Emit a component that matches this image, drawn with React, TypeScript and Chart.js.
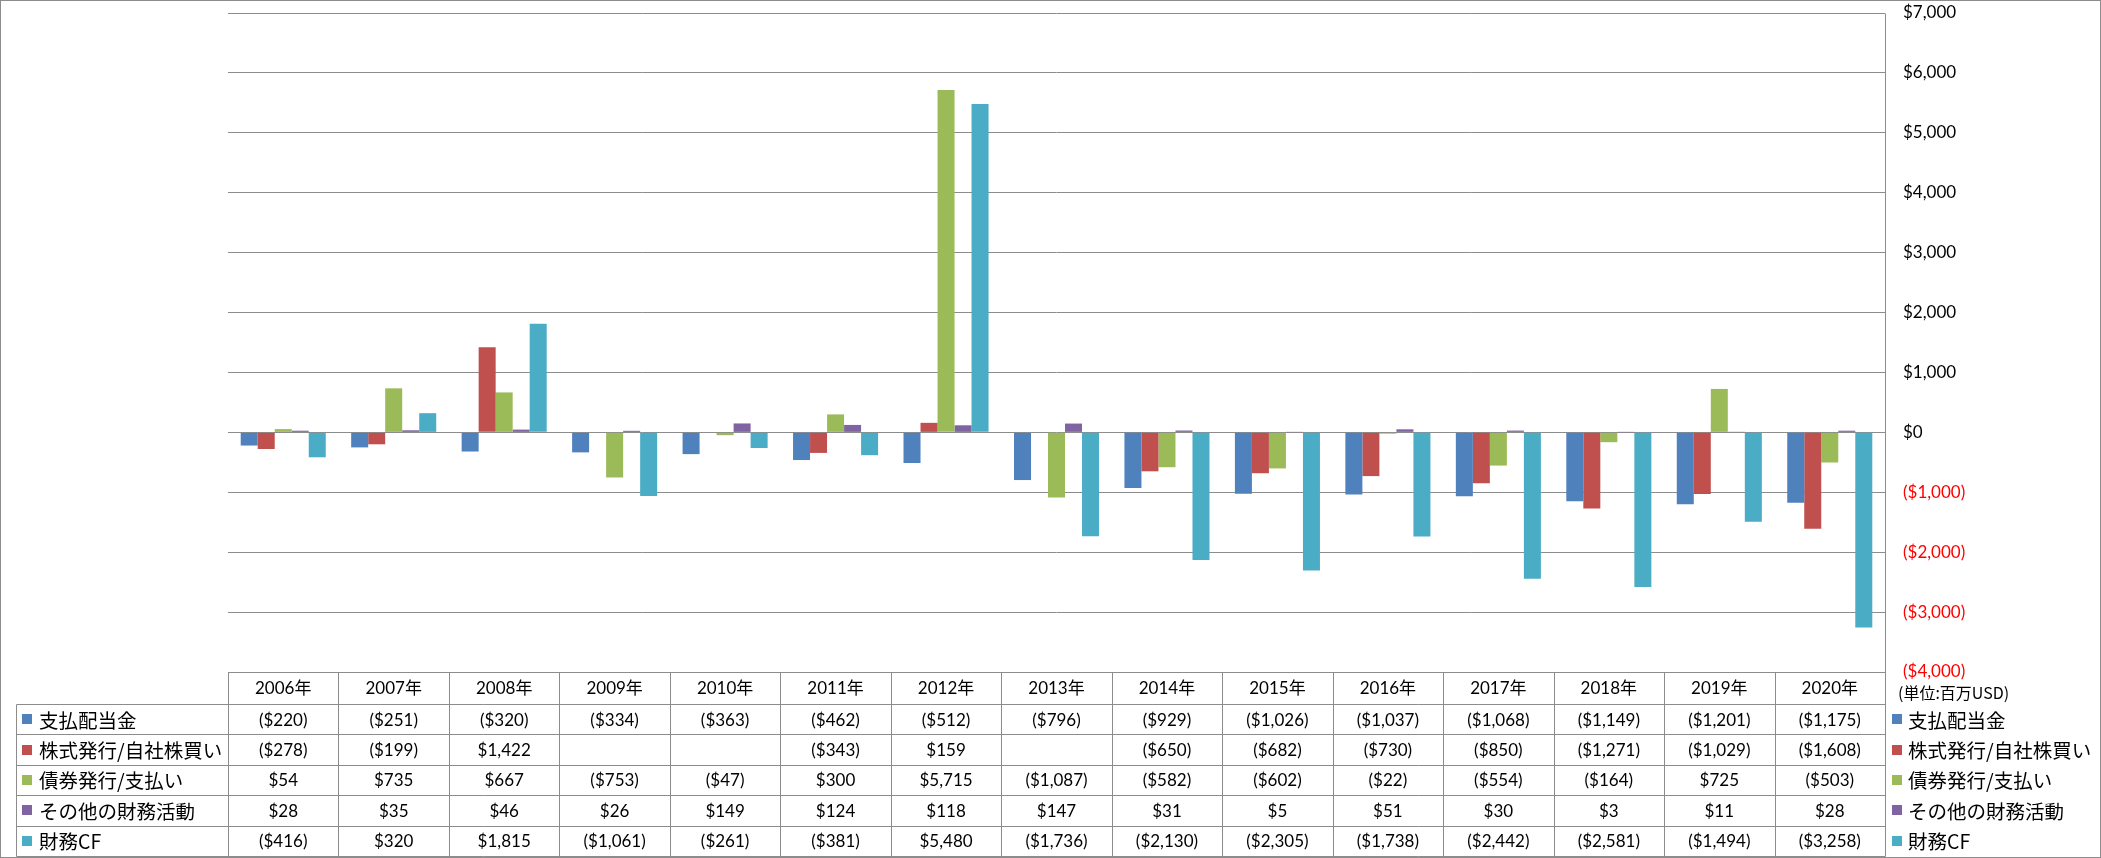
import React, { useEffect, useRef } from "react";
import { Chart, registerables } from "chart.js";

Chart.register(...registerables);

const years = ["2006年", "2007年", "2008年", "2009年", "2010年", "2011年", "2012年", "2013年", "2014年", "2015年", "2016年", "2017年", "2018年", "2019年", "2020年"];
const seriesNames = ["支払配当金", "株式発行/自社株買い", "債券発行/支払い", "その他の財務活動", "財務CF"];
const seriesColors = ["#4F81BD", "#C0504D", "#9BBB59", "#8064A2", "#4BACC6"];

const dividends = [-220, -251, -320, -334, -363, -462, -512, -796, -929, -1026, -1037, -1068, -1149, -1201, -1175];
const stockIssue = [-278, -199, 1422, null, null, -343, 159, null, -650, -682, -730, -850, -1271, -1029, -1608];
const bondIssue = [54, 735, 667, -753, -47, 300, 5715, -1087, -582, -602, -22, -554, -164, 725, -503];
const otherFin = [28, 35, 46, 26, 149, 124, 118, 147, 31, 5, 51, 30, 3, 11, 28];
const financeCF = [-416, 320, 1815, -1061, -261, -381, 5480, -1736, -2130, -2305, -1738, -2442, -2581, -1494, -3258];

const yMin = -4000;
const yMax = 7000;
const yStep = 1000;
const unitLabel = "(単位:百万USD)";

const allSeries = [dividends, stockIssue, bondIssue, otherFin, financeCF];

function fmt(v: number | null): string {
  if (v === null || v === undefined) return "";
  const s = Math.abs(v).toLocaleString("en-US");
  return v < 0 ? `($${s})` : `$${s}`;
}

const GRID = "#8c8c8c";
const NUM_FONT = "17px Lato, 'Noto Sans CJK JP', sans-serif";
const JP_FONT = "19.5px 'Noto Sans CJK JP', sans-serif";

const tablePlugin = {
  id: "dataTable",
  afterDraw(chart: any) {
    const ctx = chart.ctx as CanvasRenderingContext2D;
    const area = chart.chartArea;
    const x = chart.scales.x;
    const W = chart.width;
    const H = chart.height;
    const n = years.length;
    const colW = (area.right - area.left) / n;
    const headerTop = area.bottom;
    const headerBottom = 704;
    const tableBottom = 856;
    const rowH = (tableBottom - headerBottom) / allSeries.length;
    const labelLeft = 16;
    const p = (v: number) => Math.round(v) + 0.5;

    ctx.save();
    ctx.strokeStyle = GRID;
    ctx.lineWidth = 1;

    // outer border
    ctx.strokeRect(0.5, 0.5, W - 1, H - 1);

    ctx.beginPath();
    // right axis vertical line
    ctx.moveTo(p(area.right), p(area.top));
    ctx.lineTo(p(area.right), p(tableBottom));
    // header top
    ctx.moveTo(p(area.left), p(headerTop));
    ctx.lineTo(p(area.right), p(headerTop));
    // column lines
    for (let i = 0; i < n; i++) {
      const cx = area.left + i * colW;
      ctx.moveTo(p(cx), p(headerTop));
      ctx.lineTo(p(cx), p(tableBottom));
    }
    // row lines
    for (let r = 0; r <= allSeries.length; r++) {
      const ry = headerBottom + r * rowH;
      ctx.moveTo(p(labelLeft), p(ry));
      ctx.lineTo(p(area.right), p(ry));
    }
    // label column left
    ctx.moveTo(p(labelLeft), p(headerBottom));
    ctx.lineTo(p(labelLeft), p(tableBottom));
    ctx.stroke();

    // header years
    ctx.fillStyle = "#000";
    ctx.textAlign = "center";
    ctx.textBaseline = "middle";
    ctx.font = NUM_FONT;
    for (let i = 0; i < n; i++) {
      ctx.fillText(years[i], x.getPixelForValue(i), (headerTop + headerBottom) / 2 + 1);
    }

    // rows
    for (let r = 0; r < allSeries.length; r++) {
      const cy = headerBottom + r * rowH + rowH / 2 + 1;
      ctx.font = NUM_FONT;
      ctx.textAlign = "center";
      ctx.fillStyle = "#000";
      for (let i = 0; i < n; i++) {
        ctx.fillText(fmt(allSeries[r][i] as number | null), x.getPixelForValue(i), cy);
      }
      // left label
      ctx.fillStyle = seriesColors[r];
      ctx.fillRect(22, Math.round(cy - 6), 10, 10);
      ctx.fillStyle = "#000";
      ctx.textAlign = "left";
      ctx.font = JP_FONT;
      ctx.fillText(seriesNames[r], 39, cy);
      // right legend
      ctx.fillStyle = seriesColors[r];
      ctx.fillRect(1892, Math.round(cy - 6), 10, 10);
      ctx.fillStyle = "#000";
      ctx.fillText(seriesNames[r], 1908, cy);
    }

    // unit label
    ctx.font = "16px 'Noto Sans CJK JP', sans-serif";
    ctx.textAlign = "left";
    ctx.fillStyle = "#000";
    ctx.fillText(unitLabel, 1898, 693);

    ctx.restore();
  },
};

export default function App() {
  const ref = useRef<HTMLCanvasElement | null>(null);

  useEffect(() => {
    if (!ref.current) return;
    const chart = new Chart(ref.current, {
      type: "bar",
      data: {
        labels: years,
        datasets: seriesNames.map((name, i) => ({
          label: name,
          data: allSeries[i] as any,
          backgroundColor: seriesColors[i],
          borderWidth: 0,
          categoryPercentage: 0.77,
          barPercentage: 1,
        })),
      },
      options: {
        responsive: false,
        animation: false,
        layout: { padding: { left: 228, top: 13, bottom: 186, right: 0 } },
        plugins: {
          legend: { display: false },
          tooltip: { enabled: false },
        },
        scales: {
          x: {
            display: false,
          },
          y: {
            position: "right",
            min: yMin,
            max: yMax,
            afterFit: (scale: any) => {
              scale.width = 216;
              scale.paddingTop = 0;
              scale.paddingBottom = 0;
            },
            border: { display: false },
            grid: { color: GRID, lineWidth: 1, drawTicks: false },
            ticks: {
              stepSize: yStep,
              padding: 18,
              font: { family: "Lato, 'Noto Sans CJK JP', sans-serif", size: 17 },
              color: (c: any) => (c.tick && c.tick.value < 0 ? "#FF0000" : "#000000"),
              callback: (v: any) => fmt(Number(v)),
            },
          },
        },
      },
      plugins: [tablePlugin],
    });
    return () => chart.destroy();
  }, []);

  return (
    <div style={{ position: "absolute", left: 0, top: 0, width: 2101, height: 858, background: "#fff" }}>
      <canvas ref={ref} width={2101} height={858} style={{ display: "block" }} />
    </div>
  );
}
